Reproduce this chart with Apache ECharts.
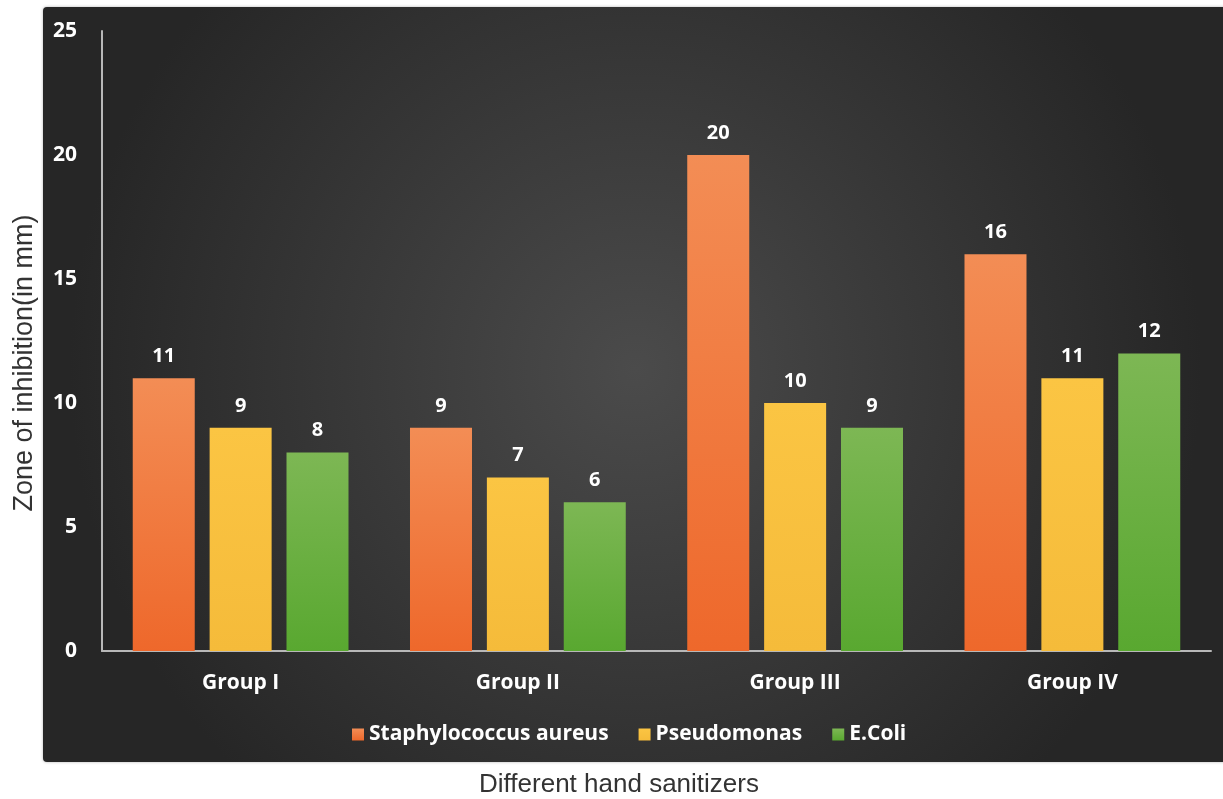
<!DOCTYPE html>
<html>
<head>
<meta charset="utf-8">
<script src="https://cdn.jsdelivr.net/npm/echarts@6/dist/echarts.min.js"></script>
<style>
  html, body { margin: 0; padding: 0; background: #fff; }
  #chart { width: 1223px; height: 799px; }
</style>
</head>
<body>
<div id="chart"></div>
<script>
// 数据
const groups = ['Group I', 'Group II', 'Group III', 'Group IV']
const staph = [11, 9, 20, 16]
const pseudo = [9, 7, 10, 11]
const ecoli = [8, 6, 9, 12]
const seriesNames = ['Staphylococcus aureus', 'Pseudomonas', 'E.Coli']

const barFont = 'Open Sans'

const grad = (top, bottom) => new echarts.graphic.LinearGradient(0, 0, 0, 1, [
  { offset: 0, color: top },
  { offset: 1, color: bottom }
])

const makeSeries = (name, data, top, bottom) => ({
  name: name,
  type: 'bar',
  data: data,
  barWidth: 62,
  barGap: '24%',
  itemStyle: { color: grad(top, bottom) },
  label: {
    show: true,
    position: 'top',
    distance: 12,
    color: '#ffffff',
    fontFamily: barFont,
    fontWeight: 'bold',
    fontSize: 20
  }
})

const myChart = echarts.init(document.getElementById('chart'))
myChart.setOption({
  backgroundColor: '#ffffff',
  animation: false,
  graphic: [
    {
      type: 'rect',
      z: -10,
      shape: { x: 43, y: 7, width: 1185, height: 755, r: 4 },
      style: {
        fill: new echarts.graphic.RadialGradient(0.5, 0.48, 0.75, [
          { offset: 0, color: '#4b4b4b' },
          { offset: 1, color: '#262626' }
        ]),
        shadowColor: 'rgba(0,0,0,0.3)',
        shadowBlur: 3
      }
    },
    {
      type: 'text',
      x: 619,
      y: 785,
      style: {
        text: 'Different hand sanitizers',
        fill: '#333333',
        fontFamily: 'Liberation Sans',
        fontSize: 26,
        align: 'center',
        verticalAlign: 'middle'
      }
    },
    {
      type: 'text',
      rotation: Math.PI / 2,
      x: 25,
      y: 363,
      style: {
        text: 'Zone of inhibition(in mm)',
        fill: '#333333',
        fontFamily: 'Liberation Sans',
        fontSize: 27,
        align: 'center',
        verticalAlign: 'middle'
      }
    }
  ],
  legend: {
    data: seriesNames,
    left: 347,
    top: 719,
    itemWidth: 12,
    itemHeight: 12,
    itemGap: 30,
    icon: 'rect',
    textStyle: {
      color: '#ffffff',
      fontFamily: barFont,
      fontWeight: 'bold',
      fontSize: 21
    }
  },
  grid: {
    left: 102,
    right: 12,
    top: 31,
    bottom: 148,
    containLabel: false
  },
  xAxis: {
    type: 'category',
    data: groups,
    axisLine: { show: true, lineStyle: { color: '#b8b8b8', width: 2 } },
    axisTick: { show: false },
    axisLabel: {
      color: '#ffffff',
      fontFamily: barFont,
      fontWeight: 'bold',
      fontSize: 21,
      margin: 22
    }
  },
  yAxis: {
    type: 'value',
    min: 0,
    max: 25,
    interval: 5,
    axisLine: { show: true, lineStyle: { color: '#b8b8b8', width: 2 } },
    axisTick: { show: false },
    splitLine: { show: false },
    axisLabel: {
      color: '#ffffff',
      fontFamily: barFont,
      fontWeight: 'bold',
      fontSize: 21,
      margin: 25
    }
  },
  series: [
    makeSeries(seriesNames[0], staph, '#f38d55', '#ee682b'),
    makeSeries(seriesNames[1], pseudo, '#fbc543', '#f5bb3a'),
    makeSeries(seriesNames[2], ecoli, '#7db754', '#59a830')
  ]
})
</script>
</body>
</html>
